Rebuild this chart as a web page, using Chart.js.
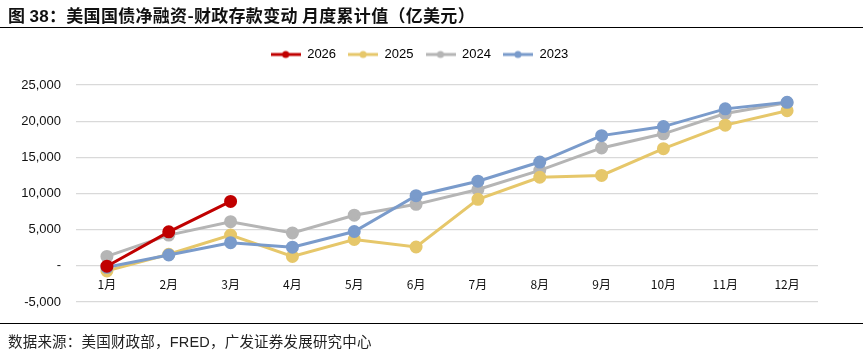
<!DOCTYPE html>
<html>
<head>
<meta charset="utf-8">
<script src="https://cdn.jsdelivr.net/npm/chart.js@4.4.1/dist/chart.umd.min.js"></script>
<style>
  html, body { margin: 0; padding: 0; background: #fff; }
  #wrap { position: relative; width: 863px; height: 355px; overflow: hidden; }
  #title { position: absolute; left: 8px; top: 2px; font-family: "Noto Sans CJK SC", "Liberation Sans", sans-serif; font-weight: bold; font-size: 17px; color: #111; white-space: nowrap; letter-spacing: 0.3px; }
  #line1 { position: absolute; left: 0; top: 27px; width: 863px; height: 0; border-top: 1.5px solid #000; }
  #line2 { position: absolute; left: 0; top: 323px; width: 863px; height: 0; border-top: 1px solid #000; }
  #source { position: absolute; left: 8px; top: 330px; font-family: "Noto Sans CJK SC", "Liberation Sans", sans-serif; font-size: 14.5px; color: #222; white-space: nowrap; letter-spacing: 0.2px; }
  #chartBox { position: absolute; left: 0; top: 0; width: 863px; height: 355px; }
</style>
</head>
<body>
<div id="wrap">
  <div id="chartBox"><canvas id="c"></canvas></div>
  <div id="title">图 <span style="font-family:'Liberation Sans'">38</span>：美国国债净融资-财政存款变动 月度累计值（亿美元）</div>
  <div id="line1"></div>
  <div id="line2"></div>
  <div id="source">数据来源：美国财政部，<span style="font-family:'Liberation Sans'">FRED</span>，广发证券发展研究中心</div>
</div>
<script>
const categories = ["1月","2月","3月","4月","5月","6月","7月","8月","9月","10月","11月","12月"];
const seriesNames = ["2026","2025","2024","2023"];
const values2026 = [-50, 4700, 8900];
const values2025 = [-700, 1600, 4250, 1300, 3650, 2600, 9200, 12250, 12500, 16200, 19450, 21450];
const values2024 = [1300, 4250, 6100, 4550, 7000, 8500, 10550, 13200, 16300, 18250, 21050, 22550];
const values2023 = [-200, 1500, 3200, 2580, 4750, 9700, 11700, 14350, 18000, 19250, 21700, 22600];
const yTicks = [-5000, 0, 5000, 10000, 15000, 20000, 25000];

const colors = ["#C00000", "#E6C76A", "#B5B5B5", "#7A9BCB"];
const seriesValues = [values2026, values2025, values2024, values2023];
const drawOrder = [0, 2, 3, 1];

function legendIcon(color) {
  const cv = document.createElement('canvas');
  cv.width = 30; cv.height = 10;
  const g = cv.getContext('2d');
  g.strokeStyle = color; g.lineWidth = 3;
  g.beginPath(); g.moveTo(0, 5); g.lineTo(30, 5); g.stroke();
  g.fillStyle = color;
  g.beginPath(); g.arc(15, 5, 3.5, 0, Math.PI * 2); g.fill();
  return cv;
}
const icons = colors.map(legendIcon);

const datasets = seriesNames.map((name, i) => ({
  label: name,
  data: seriesValues[i],
  borderColor: colors[i],
  backgroundColor: colors[i],
  borderWidth: 3,
  pointRadius: 5,
  pointHoverRadius: 5,
  pointBackgroundColor: colors[i],
  pointBorderColor: colors[i],
  tension: 0,
  order: drawOrder[i]
}));

const legendGap = {
  id: 'legendGap',
  beforeUpdate(chart) {
    const lg = chart.legend;
    if (lg && !lg._gapPatched) {
      const orig = lg.fit;
      lg.fit = function () { orig.call(this); this.height += 14; };
      lg._gapPatched = true;
    }
  }
};

new Chart(document.getElementById('c'), {
  type: 'line',
  data: { labels: categories, datasets },
  plugins: [legendGap],
  options: {
    responsive: true,
    maintainAspectRatio: false,
    animation: false,
    layout: { padding: { left: 21, right: 45, top: 36, bottom: 53 } },
    plugins: {
      tooltip: { enabled: false },
      legend: {
        position: 'top',
        labels: {
          usePointStyle: true,
          pointStyleWidth: 30,
          boxHeight: 10,
          padding: 12,
          color: '#111',
          font: { family: "'Liberation Sans', Arial, sans-serif", size: 13 },
          generateLabels: (chart) => seriesNames.map((name, i) => ({
            text: name,
            pointStyle: icons[i],
            fillStyle: colors[i],
            strokeStyle: colors[i],
            lineWidth: 0,
            hidden: false,
            datasetIndex: i
          }))
        }
      }
    },
    scales: {
      x: {
        offset: true,
        position: { y: 0 },
        grid: { display: false, drawTicks: false, offset: true },
        border: { display: false },
        ticks: { color: '#111', padding: 11, font: { family: "'Noto Sans CJK SC', 'Liberation Sans', sans-serif", size: 12 } }
      },
      y: {
        min: -5000,
        max: 25000,
        afterBuildTicks: (scale) => { scale.ticks = yTicks.map(v => ({ value: v })); },
        afterFit: (scale) => { scale.width = 55; },
        grid: { color: '#D9D9D9', lineWidth: 1.2, drawTicks: false },
        border: { display: false },
        ticks: {
          color: '#111',
          padding: 15,
          font: { family: "'Liberation Sans', Arial, sans-serif", size: 13 },
          callback: (v) => v === 0 ? '-' : v.toLocaleString('en-US')
        }
      }
    }
  }
});
</script>
</body>
</html>
